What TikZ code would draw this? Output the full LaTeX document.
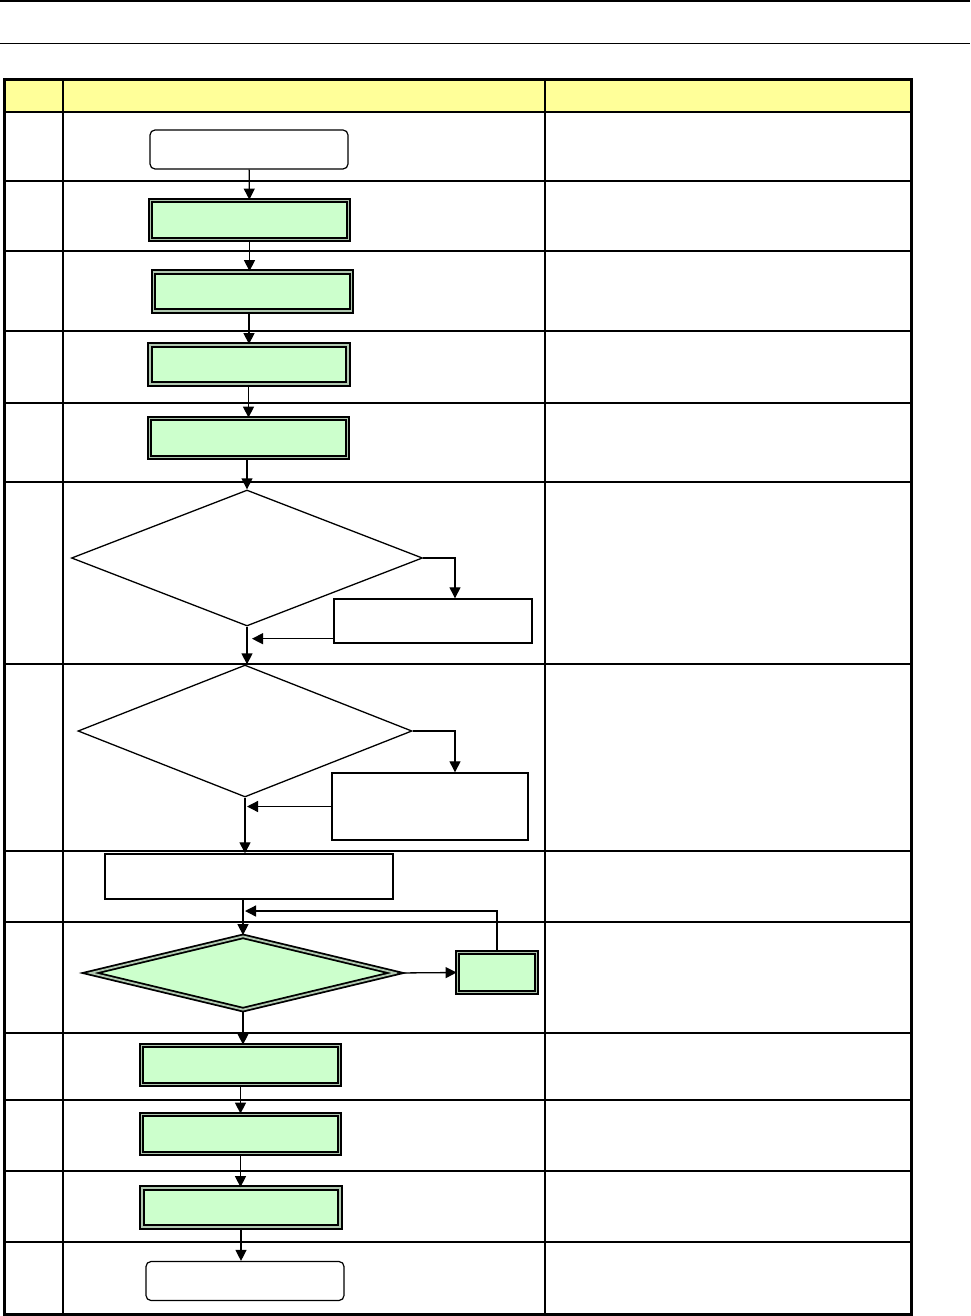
\documentclass[tikz,border=0pt]{standalone}
\usetikzlibrary{shapes.geometric, arrows.meta, positioning, calc}
\definecolor{HeadFill}{HTML}{FFFF99}
\definecolor{StepFill}{HTML}{CCFFCC}
\definecolor{EdgeGap}{HTML}{B0C8B0}

\begin{document}
\begin{tikzpicture}[x=1pt, y=-1pt,
    term/.style={rectangle, draw, rounded corners=5pt, line width=1.2pt, fill=white, inner sep=0pt, minimum width=198pt, minimum height=39pt},
    proc/.style={rectangle, draw, line width=1.4pt, fill=white, inner sep=0pt},
    dproc/.style={rectangle, draw, line width=1.8pt, double=EdgeGap, double distance=1.8pt, fill=StepFill, inner sep=0pt, minimum width=198pt, minimum height=39pt},
    dec/.style={diamond, draw, line width=1.3pt, fill=white, inner sep=0pt},
    ddec/.style={diamond, draw, line width=1.8pt, double=EdgeGap, double distance=1.8pt, fill=StepFill, inner sep=0pt},
    arr/.style={-{Triangle[length=11pt, width=11pt]}, line width=1.3pt},
    thinrule/.style={line width=1.4pt},
    thickrule/.style={line width=2.4pt}
  ]
  \useasboundingbox (0,0) rectangle (970,1316);

  % page rules
  \draw[line width=2.5pt] (0,1) -- (970,1);
  \draw[line width=1pt] (0,44) -- (970,44);

  % table frame
  \fill[HeadFill] (4,80) rectangle (911,112);
  \foreach \y in {112,181,251,403,1100,1171,1242}
    \draw[thinrule] (4,\y) -- (911,\y);
  \foreach \y in {331,482,664,851,922,1033}
    \draw[thickrule] (4,\y) -- (911,\y);
  \draw[line width=2pt] (63,80) -- (63,1314);
  \draw[line width=2pt] (545,80) -- (545,1314);
  \draw[line width=3pt] (4,80) rectangle (911,1314);

  % flow
  \node[term] (start) at (249,149.5) {};
  \node[dproc] (s1) at (249.5,220) {};
  \node[dproc] (s2) at (252.5,291.5) {};
  \node[dproc] (s3) at (249,364.5) {};
  \node[dproc] (s4) at (248.5,438) {};
  \node[dec, minimum width=351pt, minimum height=136pt] (chk1) at (247,558) {};
  \node[proc, minimum width=198pt, minimum height=44pt] (fix1) at (433,621) {};
  \node[dec, minimum width=334pt, minimum height=132pt] (chk2) at (245,731) {};
  \node[proc, minimum width=196pt, minimum height=67pt] (fix2) at (430,806.5) {};
  \node[proc, minimum width=288pt, minimum height=45pt] (prep) at (249,876.5) {};
  \node[ddec, minimum width=306pt, minimum height=74pt] (chk3) at (243,973) {};
  \node[dproc, minimum width=79pt, minimum height=40pt] (retry) at (497,972.5) {};
  \coordinate (back) at (245,911);
  \node[dproc] (s5) at (240.5,1065) {};
  \node[dproc] (s6) at (240.5,1134) {};
  \node[dproc] (s7) at (241,1207.5) {};
  \node[term] (stop) at (245,1281) {};

  \draw[arr] (start) -- (s1);
  \draw[arr] (s1.south) -- (s1.south |- s2.north);
  \draw[arr] (s2.south -| s3.north) -- (s3.north);
  \draw[arr] (s3.south -| s4.north) -- (s4.north);
  \draw[arr] (s4.south -| chk1.north) -- (chk1.north);
  \draw[arr] (chk1.east) -| ([xshift=22pt]fix1.north);
  \draw[arr, shorten >=5pt] ([yshift=5pt]fix1.south west) -- ([yshift=5pt]fix1.south west -| chk1.south);
  \draw[arr] (chk1.south) -- (chk1.south |- chk2.north);
  \draw[arr] (chk2.east) -| ([xshift=25pt]fix2.north);
  \draw[arr, shorten >=2pt] (fix2.west) -- (fix2.west -| chk2.south);
  \draw[arr] (chk2.south) -- (chk2.south |- prep.north);
  \draw[arr] (prep.south -| chk3.north) -- (chk3.north);
  \draw[arr] (chk3.east) -- (retry.west);
  \draw[arr] (retry.north) |- (back);
  \draw[arr] (chk3.south) -- (chk3.south |- s5.north);
  \draw[arr] (s5.south) -- (s6.north);
  \draw[arr] (s6.south) -- (s6.south |- s7.north);
  \draw[arr] (s7.south) -- (s7.south |- stop.north);
\end{tikzpicture}
\end{document}
